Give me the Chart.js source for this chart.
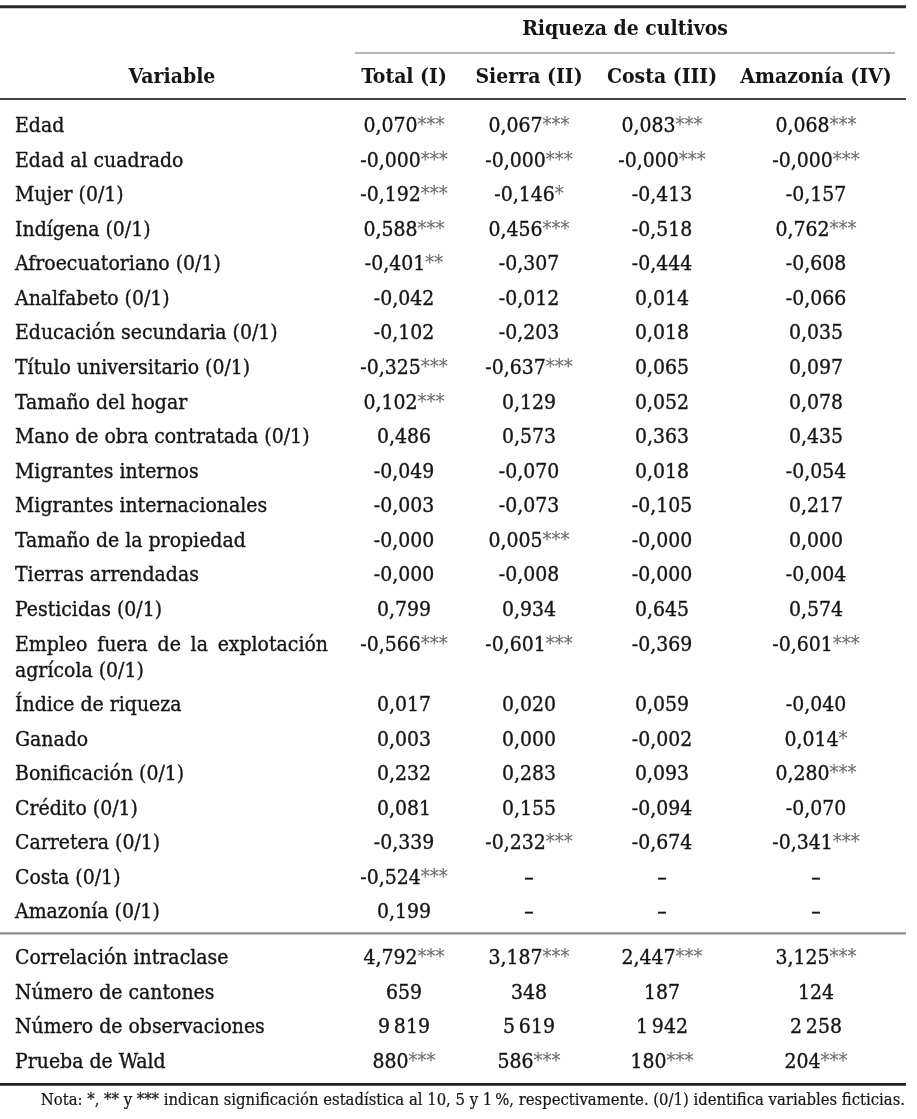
<!DOCTYPE html>
<html>
<head>
<meta charset="utf-8">
<script src="https://cdn.jsdelivr.net/npm/chart.js@4.4.1/dist/chart.umd.min.js"></script>
<style>
  html, body { margin: 0; padding: 0; background: #ffffff; }
  canvas { display: block; }
</style>
</head>
<body>
<canvas id="tabla_Riqueza" width="917" height="1119"></canvas>
<script>

// row labels
const variables = [
    "Edad",
    "Edad al cuadrado",
    "Mujer (0/1)",
    "Indígena (0/1)",
    "Afroecuatoriano (0/1)",
    "Analfabeto (0/1)",
    "Educación secundaria (0/1)",
    "Título universitario (0/1)",
    "Tamaño del hogar",
    "Mano de obra contratada (0/1)",
    "Migrantes internos",
    "Migrantes internacionales",
    "Tamaño de la propiedad",
    "Tierras arrendadas",
    "Pesticidas (0/1)",
    ["Empleo fuera de la explotación", "agrícola (0/1)"],
    "Índice de riqueza",
    "Ganado",
    "Bonificación (0/1)",
    "Crédito (0/1)",
    "Carretera (0/1)",
    "Costa (0/1)",
    "Amazonía (0/1)"
];
const statLabels = [
    "Correlación intraclase",
    "Número de cantones",
    "Número de observaciones",
    "Prueba de Wald"
];

const columnHeaders = ["Total (I)", "Sierra (II)", "Costa (III)", "Amazonía (IV)"];

const totalI = ["0,070***", "-0,000***", "-0,192***", "0,588***", "-0,401**", "-0,042", "-0,102",
    "-0,325***", "0,102***", "0,486", "-0,049", "-0,003", "-0,000", "-0,000", "0,799", "-0,566***",
    "0,017", "0,003", "0,232", "0,081", "-0,339", "-0,524***", "0,199"];
const sierraII = ["0,067***", "-0,000***", "-0,146*", "0,456***", "-0,307", "-0,012", "-0,203",
    "-0,637***", "0,129", "0,573", "-0,070", "-0,073", "0,005***", "-0,008", "0,934", "-0,601***",
    "0,020", "0,000", "0,283", "0,155", "-0,232***", "–", "–"];
const costaIII = ["0,083***", "-0,000***", "-0,413", "-0,518", "-0,444", "0,014", "0,018",
    "0,065", "0,052", "0,363", "0,018", "-0,105", "-0,000", "-0,000", "0,645", "-0,369",
    "0,059", "-0,002", "0,093", "-0,094", "-0,674", "–", "–"];
const amazoniaIV = ["0,068***", "-0,000***", "-0,157", "0,762***", "-0,608", "-0,066", "0,035",
    "0,097", "0,078", "0,435", "-0,054", "0,217", "0,000", "-0,004", "0,574", "-0,601***",
    "-0,040", "0,014*", "0,280***", "-0,070", "-0,341***", "–", "–"];

const statTotal = ["4,792***", "659", "9\u2009819", "880***"];
const statSierra = ["3,187***", "348", "5\u2009619", "586***"];
const statCosta = ["2,447***", "187", "1\u2009942", "180***"];
const statAmazonia = ["3,125***", "124", "2\u2009258", "204***"];

const nota = "Nota: *, ** y *** indican significación estadística al 10, 5 y 1\u2009%, respectivamente. (0/1) identifica variables ficticias.";

// layout (x in px along the x scale, y in row units along the y scale)
const LABEL_X = 15;
const COL_X = [404, 529, 662, 816];
const VARIABLE_X = 172;
const SPAN_X = [355, 895];
const RULE_X = [0, 906];
const Y_MIN = -3.818, Y_MAX = 28.55;
const FONT = "'DejaVu Serif Condensed', 'DejaVu Serif', serif";
const FS = 21;
const STAR_FS = 20;
const INK = "#151515";

// row positions: the two-line row pushes the rest down, stats block after a rule
const rowY = variables.map((v, i) => i <= 15 ? i : i + 0.75);
const statY = statLabels.map((v, j) => 24.07 + j);

const allLabels = variables.concat(statLabels);
const allY = rowY.concat(statY);
const columns = [
    totalI.concat(statTotal),
    sierraII.concat(statSierra),
    costaIII.concat(statCosta),
    amazoniaIV.concat(statAmazonia)
];

const datasets = [{
    label: "Variable",
    data: allY.map(y => ({ x: LABEL_X, y: y })),
    texts: allLabels,
    align: "left"
}].concat(columns.map((col, k) => ({
    label: columnHeaders[k],
    data: allY.map(y => ({ x: COL_X[k], y: y })),
    texts: col,
    align: "center"
})));

// fill plus a hairline stroke, the print is a bit heavier than plain canvas text
function ink(ctx, t, x, y) {
    ctx.fillText(t, x, y);
    ctx.strokeText(t, x, y);
}

function drawLeft(ctx, text, x, y) {
    if (Array.isArray(text)) {
        // first line justified like the printed table
        const words = text[0].split(" ");
        const target = 313;
        const w = words.reduce((s, t) => s + ctx.measureText(t).width, 0);
        const gap = (target - w) / (words.length - 1);
        let cx = x;
        words.forEach(t => { ink(ctx, t, cx, y); cx += ctx.measureText(t).width + gap; });
        ink(ctx, text[1], x, y + 26.5);
    } else {
        ink(ctx, text, x, y);
    }
}

function drawCell(ctx, text, cx, y) {
    const m = text.match(/^(.*?)(\**)$/);
    const num = m[1], stars = m[2];
    ctx.font = FS + "px " + FONT;
    const wn = ctx.measureText(num).width;
    ctx.font = STAR_FS + "px " + FONT;
    const ws = ctx.measureText(stars).width;
    let x = cx - (wn + ws) / 2;
    ctx.font = FS + "px " + FONT;
    ctx.fillStyle = INK;
    ctx.strokeStyle = INK;
    ink(ctx, num, x, y);
    if (stars) {
        ctx.font = STAR_FS + "px " + FONT;
        ctx.fillStyle = "#666666";
        ctx.fillText(stars, x + wn, y - 1);
    }
}

const tablePlugin = {
    id: "tablePlugin",
    afterDatasetsDraw(chart) {
        const ctx = chart.ctx;
        const xs = chart.scales.x, ys = chart.scales.y;
        const px = v => xs.getPixelForValue(v);
        const py = v => ys.getPixelForValue(v);

        ctx.save();
        ctx.textBaseline = "alphabetic";

        function hline(x0, x1, u, w, color) {
            ctx.beginPath();
            ctx.strokeStyle = color;
            ctx.lineWidth = w;
            ctx.moveTo(px(x0), py(u));
            ctx.lineTo(px(x1), py(u));
            ctx.stroke();
        }
        hline(RULE_X[0], RULE_X[1], -3.625, 3, "#2a2a2a");
        hline(SPAN_X[0], SPAN_X[1], -2.285, 1.6, "#9a9a9a");
        hline(RULE_X[0], RULE_X[1], -0.955, 2, "#444444");
        hline(RULE_X[0], RULE_X[1], 23.18, 2.2, "#8c8c8c");
        hline(RULE_X[0], RULE_X[1], 27.55, 2.8, "#222222");

        // headers
        ctx.font = "bold " + FS + "px " + FONT;
        ctx.fillStyle = INK;
        ctx.textAlign = "center";
        ctx.fillText("Riqueza de cultivos", px((SPAN_X[0] + SPAN_X[1]) / 2), py(-2.806));
        ctx.fillText("Variable", px(VARIABLE_X), py(-1.417));
        columnHeaders.forEach((h, k) => ctx.fillText(h, px(COL_X[k]), py(-1.417)));

        // body cells, placed at the points the scales gave
        ctx.lineWidth = 0.35;
        chart.data.datasets.forEach((ds, di) => {
            const meta = chart.getDatasetMeta(di);
            meta.data.forEach((pt, i) => {
                ctx.textAlign = "left";
                if (ds.align === "left") {
                    ctx.font = FS + "px " + FONT;
                    ctx.fillStyle = INK;
                    ctx.strokeStyle = INK;
                    drawLeft(ctx, ds.texts[i], pt.x, pt.y);
                } else {
                    drawCell(ctx, ds.texts[i], pt.x, pt.y);
                }
            });
        });

        // note
        ctx.font = "16.5px " + FONT;
        ctx.fillStyle = INK;
        ctx.strokeStyle = INK;
        ctx.lineWidth = 0.2;
        ctx.textAlign = "right";
        ink(ctx, nota, px(905), py(28.14));
        ctx.restore();
    }
};

const config_Tabla = {
    type: "scatter",
    data: { datasets: datasets },
    options: {
        responsive: false,
        animation: false,
        devicePixelRatio: 1,
        layout: { padding: 0 },
        elements: { point: { radius: 0, hoverRadius: 0 } },
        scales: {
            x: { type: "linear", min: 0, max: 917, display: false },
            y: { type: "linear", min: Y_MIN, max: Y_MAX, reverse: true, display: false }
        },
        plugins: {
            legend: { display: false },
            tooltip: { enabled: false }
        }
    },
    plugins: [tablePlugin]
};

const ctx_Tabla = document.getElementById("tabla_Riqueza").getContext("2d");
const myChart_Tabla = new Chart(ctx_Tabla, config_Tabla);

</script>
</body>
</html>
